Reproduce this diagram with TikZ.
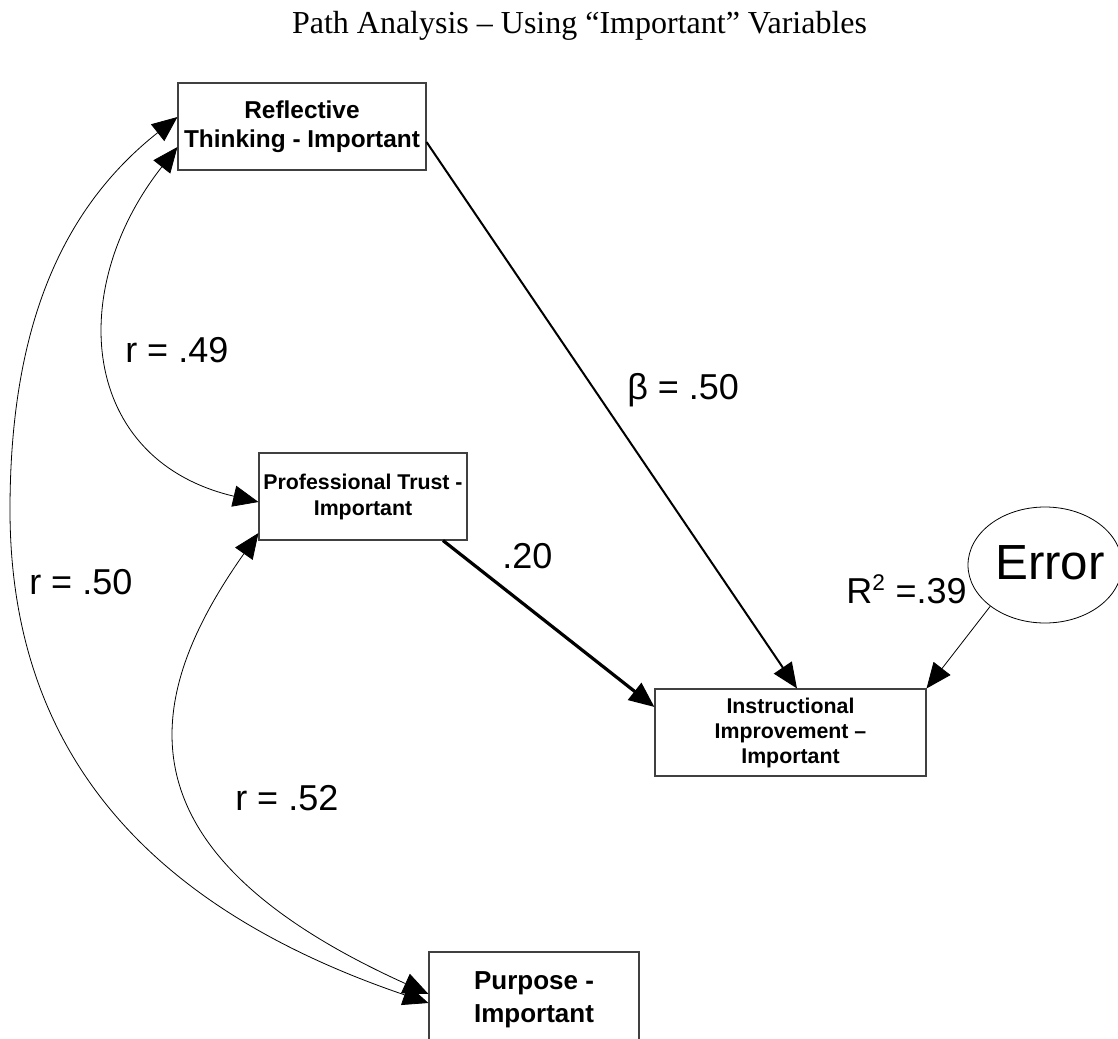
\documentclass[tikz,border=0pt]{standalone}
\usepackage{fontspec}
\setmainfont{Liberation Sans}
\newfontfamily\titlefont{Liberation Serif}
\usetikzlibrary{arrows.meta,shapes.geometric}

\begin{document}
\begin{tikzpicture}[x=0.75pt,y=-0.75pt,>={Triangle[length=19pt,width=16pt]}]
    \tikzstyle{every node}+=[inner sep=0pt]
    \tikzstyle{var}=[draw=black!75, line width=0.8pt, align=center]
    \tikzstyle{coef}=[anchor=base west, font=\fontsize{27}{30}\selectfont]
    \tikzstyle{corr}=[<->, line width=0.6pt]
    \useasboundingbox (0,0) rectangle (1118,1039);

    \node[anchor=base, font=\titlefont\fontsize{24}{28}\selectfont] (title) at (579.5,33)
        {Path Analysis – Using “Important” Variables};

    % variables
    \node[var, minimum width=186pt, minimum height=65.25pt,
          font=\bfseries\fontsize{18.3}{21.75}\selectfont] (refl) at (302,126.5)
        {Reflective\\Thinking - Important};
    \node[var, minimum width=156pt, minimum height=65.25pt,
          font=\bfseries\fontsize{16}{19.5}\selectfont] (prof) at (363,496.5)
        {Professional Trust -\\Important};
    \node[var, minimum width=203.25pt, minimum height=65.25pt,
          font=\bfseries\fontsize{16}{18.75}\selectfont] (instr) at (790.5,732.5)
        {Instructional\\Improvement –\\Important};
    \node[var, minimum width=157.5pt, minimum height=72pt,
          font=\bfseries\fontsize{19.5}{24.5}\selectfont] (purp) at (534,1000)
        {Purpose -\\Important};
    \node[ellipse, draw, line width=0.6pt, minimum width=115.5pt, minimum height=87pt,
          font=\fontsize{37}{40}\selectfont] (err) at (1045,565) {};
    \node[anchor=base, font=\fontsize{37}{40}\selectfont] (errtext) at (1050,579) {Error};

    % direct effects
    \draw[->, line width=1.5pt] ([shift={(0,15.5)}]refl.east) -- ([shift={(6.5,0)}]instr.north);
    \draw[->, line width=2.4pt] ([shift={(80,0)}]prof.south) -- ([shift={(0,-25.5)}]instr.west);
    \draw[->, line width=0.6pt] (err.217) -- (instr.north east);

    % correlations
    \coordinate (bend) at (10,510);
    \draw[corr] ([shift={(0,20.5)}]refl.west) .. controls (65,290) and (80,460) .. ([shift={(0,5.5)}]prof.west);
    \draw[corr] ([shift={(0,-9.5)}]refl.west) .. controls (60,210) and (10,330) .. (bend)
        .. controls (10,770) and (170,915) .. ([shift={(0,3)}]purp.west);
    \draw[corr] ([shift={(0,36.5)}]prof.west) .. controls (143,697) and (110,850) .. ([shift={(0,-6)}]purp.west);

    % coefficients
    \node[coef] (r49) at (125,362) {r = .49};
    \node[coef] (r50) at (29,594) {r = .50};
    \node[coef] (r52) at (235,810) {r = .52};
    \node[coef] (b50) at (627,399) {β = .50};
    \node[coef] (b20) at (502,568) {.20};
    \node[coef] (rsq) at (846,603) {R\textsuperscript{\fontsize{17}{20}\selectfont 2} =.39};
\end{tikzpicture}
\end{document}
